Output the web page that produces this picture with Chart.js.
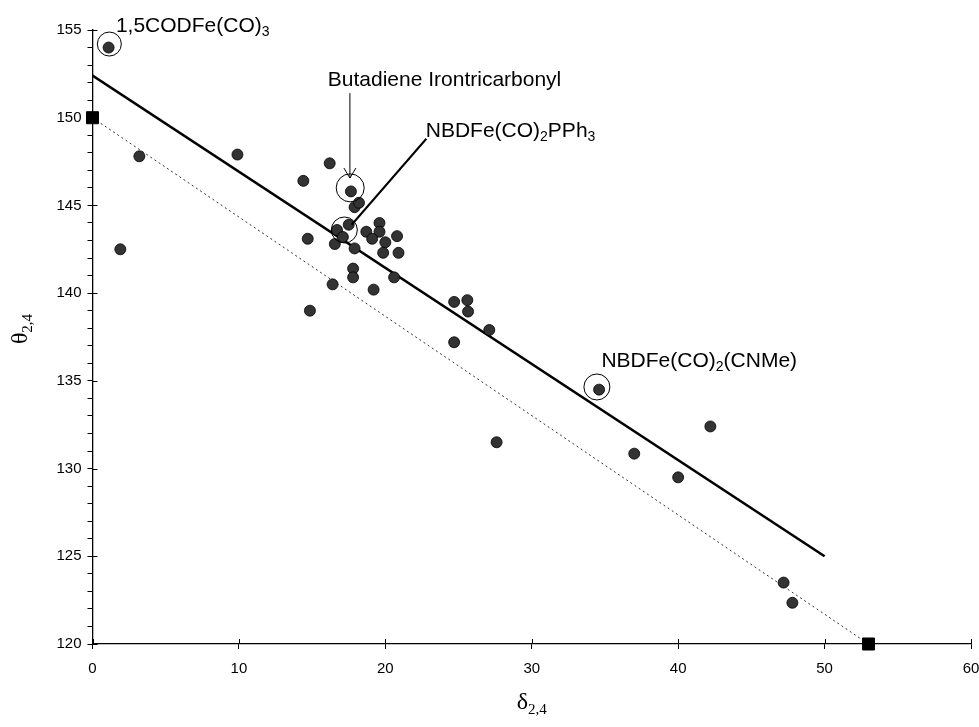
<!DOCTYPE html>
<html>
<head>
<meta charset="utf-8">
<script src="https://cdn.jsdelivr.net/npm/chart.js@4.4.1/dist/chart.umd.min.js"></script>
<style>
html, body { margin: 0; padding: 0; background: #fff; }
#wrap { width: 979px; height: 727px; }
</style>
</head>
<body>
<div id="wrap"><canvas id="grafico"></canvas></div>
<script>
// delta(2,4) y theta(2,4) de cada complejo
const deltaVals = [1.1, 3.2, 1.9, 9.9, 14.4, 16.2, 17.65, 17.9, 18.2,
    16.7, 17.5, 16.55, 17.1, 17.9, 14.7, 18.7, 19.6, 19.6, 19.1, 20.0, 20.8,
    19.85, 20.9, 17.8, 17.8, 20.6, 16.4, 19.2, 14.85, 24.7, 25.6, 25.65, 27.1,
    24.7, 27.6, 34.6, 42.2, 37.0, 40.0, 47.2, 47.8];
const thetaVals = [154.0, 147.8, 142.5, 147.9, 146.4, 147.4, 145.8, 144.9, 145.15,
    143.6, 143.9, 142.8, 143.2, 142.55, 143.1, 143.5, 144.0, 143.5, 143.1, 142.9, 143.25,
    142.3, 142.3, 141.4, 140.9, 140.9, 140.5, 140.2, 139.0, 139.5, 139.6, 138.95, 137.9,
    137.2, 131.5, 134.5, 132.4, 130.85, 129.5, 123.5, 122.35];

// recta ajustada (continua) y recta de referencia (punteada)
const fitX = [0, 50];
const fitY = [152.4, 125.0];
const refX = [0, 53];
const refY = [150, 120];

// ticks
const xTicks = [0, 10, 20, 30, 40, 50, 60];
const yTicks = [120, 125, 130, 135, 140, 145, 150, 155];

const toPts = (xs, ys) => xs.map((v, i) => ({ x: v, y: ys[i] }));

const FONT = "'Liberation Sans', Arial, sans-serif";
const SERIF = "'Liberation Serif', 'Times New Roman', serif";

// texto con subindices: partes [texto, esSub]
function drawRich(ctx, parts, x, y, size, subSize, family) {
    let cx = x;
    ctx.textAlign = 'left';
    ctx.textBaseline = 'alphabetic';
    parts.forEach(([t, sub]) => {
        ctx.font = (sub ? subSize : size) + 'px ' + family;
        ctx.fillText(t, cx, sub ? y + size * 0.2 : y);
        cx += ctx.measureText(t).width;
    });
    return cx - x;
}

function richWidth(ctx, parts, size, subSize, family) {
    let w = 0;
    parts.forEach(([t, sub]) => {
        ctx.font = (sub ? subSize : size) + 'px ' + family;
        w += ctx.measureText(t).width;
    });
    return w;
}

// marcas de los ejes hacia adentro + titulos
const tickStubs = {
    id: 'tickStubs',
    afterDraw(chart) {
        const { ctx, chartArea: a, scales: { x, y } } = chart;
        ctx.save();
        ctx.strokeStyle = '#000';
        ctx.lineWidth = 1;
        ctx.beginPath();
        xTicks.forEach(v => {
            const p = Math.round(x.getPixelForValue(v)) + 0.5;
            ctx.moveTo(p, a.bottom);
            ctx.lineTo(p, a.bottom - 5);
        });
        yTicks.forEach(v => {
            const p = Math.round(y.getPixelForValue(v)) + 0.5;
            ctx.moveTo(a.left, p);
            ctx.lineTo(a.left + 5, p);
        });
        ctx.stroke();

        ctx.fillStyle = '#000';
        const tParts = [['\u03B8', 0], ['2,4', 1]];
        const tw = richWidth(ctx, tParts, 24, 15, SERIF);
        ctx.translate(27, (a.top + a.bottom) / 2 - 8);
        ctx.rotate(-Math.PI / 2);
        drawRich(ctx, tParts, -tw / 2, 0, 24, 15, SERIF);
        ctx.setTransform(1, 0, 0, 1, 0, 0);
        const dParts = [['\u03B4', 0], ['2,4', 1]];
        const dw = richWidth(ctx, dParts, 24, 15, SERIF);
        drawRich(ctx, dParts, (a.left + a.right) / 2 - dw / 2, 709, 24, 15, SERIF);
        ctx.restore();
    }
};

// etiquetas, circulos y flechas
const notas = {
    id: 'notas',
    afterDatasetsDraw(chart) {
        const { ctx, scales: { x, y } } = chart;
        const px = v => x.getPixelForValue(v);
        const py = v => y.getPixelForValue(v);
        ctx.save();
        ctx.strokeStyle = '#000';
        ctx.fillStyle = '#000';

        // circulos
        ctx.lineWidth = 1;
        [[1.15, 154.2, 12], [17.6, 146.0, 14], [17.2, 143.6, 13], [34.45, 134.65, 13]].forEach(([cx, cy, r]) => {
            ctx.beginPath();
            ctx.arc(px(cx), py(cy), r, 0, Math.PI * 2);
            ctx.stroke();
        });

        // flecha butadieno
        const ax = px(17.58);
        const top = py(151.4), tip = py(146.56);
        ctx.beginPath();
        ctx.moveTo(ax, top);
        ctx.lineTo(ax, tip);
        ctx.moveTo(ax - 6, tip - 10);
        ctx.lineTo(ax, tip);
        ctx.lineTo(ax + 6, tip - 10);
        ctx.stroke();

        // linea guia NBDFe(CO)2PPh3
        ctx.lineWidth = 2;
        ctx.beginPath();
        ctx.moveTo(px(22.8), py(148.8));
        ctx.lineTo(px(17.7), py(143.9));
        ctx.stroke();

        drawRich(ctx, [['1,5CODFe(CO)', 0], ['3', 1]], px(1.6), py(154.9), 21, 14, FONT);
        drawRich(ctx, [['Butadiene Irontricarbonyl', 0]], px(16.07), py(151.8), 21, 14, FONT);
        drawRich(ctx, [['NBDFe(CO)', 0], ['2', 1], ['PPh', 0], ['3', 1]], px(22.76), py(148.9), 21, 14, FONT);
        drawRich(ctx, [['NBDFe(CO)', 0], ['2', 1], ['(CNMe)', 0]], px(34.76), py(135.8), 21, 14, FONT);
        ctx.restore();
    }
};

const config = {
    type: 'scatter',
    data: {
        datasets: [
            {
                label: 'complejos',
                data: toPts(deltaVals, thetaVals),
                pointRadius: 5.5,
                pointBackgroundColor: '#333',
                pointBorderColor: '#000',
                pointBorderWidth: 0.8
            },
            {
                label: 'extremos',
                data: toPts(refX, refY),
                pointStyle: 'rect',
                pointRadius: 8.5,
                pointBackgroundColor: '#000',
                pointBorderColor: '#000',
                clip: false
            },
            {
                label: 'ajuste',
                data: toPts(fitX, fitY),
                showLine: true,
                borderColor: '#000',
                borderWidth: 2.6,
                pointRadius: 0
            },
            {
                label: 'referencia',
                data: toPts(refX, refY),
                showLine: true,
                borderColor: '#333',
                borderWidth: 1,
                borderDash: [2, 3],
                pointRadius: 0
            }
        ]
    },
    options: {
        responsive: true,
        maintainAspectRatio: false,
        animation: false,
        layout: { autoPadding: false, padding: { top: 30, right: 8, left: 0, bottom: 0 } },
        plugins: {
            legend: { display: false },
            tooltip: { enabled: false }
        },
        scales: {
            x: {
                type: 'linear',
                min: 0,
                max: 60,
                afterBuildTicks: s => { s.ticks = xTicks.map(v => ({ value: v })); },
                afterFit: s => { s.height = 83; s.paddingLeft = 0; s.paddingRight = 0; },
                grid: { drawOnChartArea: false, drawTicks: true, tickLength: 5, color: '#000' },
                border: { display: true, color: '#000', width: 1.3 },
                ticks: { color: '#000', padding: 11, font: { family: FONT, size: 15 }, maxRotation: 0 }
            },
            y: {
                type: 'linear',
                min: 120,
                max: 155,
                afterBuildTicks: s => {
                    const t = [];
                    for (let v = yTicks[0]; v <= yTicks[yTicks.length - 1]; v++) t.push({ value: v });
                    s.ticks = t;
                },
                afterFit: s => { s.width = 92.5; s.paddingTop = 0; s.paddingBottom = 0; },
                grid: { drawOnChartArea: false, drawTicks: true, tickLength: 5, color: '#000' },
                border: { display: true, color: '#000', width: 1.3 },
                ticks: {
                    color: '#000',
                    padding: 6,
                    autoSkip: false,
                    font: { family: FONT, size: 15 },
                    callback: v => (yTicks.includes(v) ? v : '')
                }
            }
        }
    },
    plugins: [notas, tickStubs]
};

const grafico = new Chart(document.getElementById('grafico'), config);
</script>
</body>
</html>
